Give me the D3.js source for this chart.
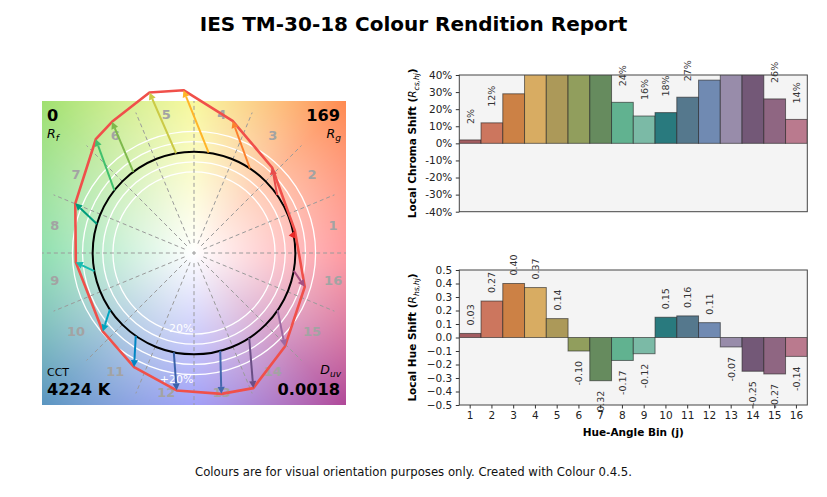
<!DOCTYPE html>
<html lang="en">
<head>
<meta charset="UTF-8">
<title>IES TM-30-18 Colour Rendition Report</title>
<script src="https://cdn.jsdelivr.net/npm/d3@7"></script>
<style>
  body { margin: 0; background: #fff; }
  svg { display: block; font-family: "DejaVu Sans", sans-serif; }
</style>
</head>
<body>
<script>
// hue-angle bins and their values
const bins = d3.range(1, 17);
const chromaShift = [2, 12, 29, 58, 62, 50, 46, 24, 16, 18, 27, 37, 42, 45, 26, 14];   // %
const hueShift = [0.03, 0.27, 0.40, 0.37, 0.14, -0.10, -0.32, -0.17, -0.12, 0.15, 0.16, 0.11, -0.07, -0.25, -0.27, -0.14];
// colour vector graphic: reference hue (deg), test hue (deg), test chroma (relative to reference)
const refHue = [11, 34.8, 56.5, 81.7, 100.2, 126.8, 141.8, 163.4, 190.3, 213.9, 234.9, 258.5, 285, 303, 325.6, 349.9];
const testHue = [12.5, 47.6, 73.7, 93.7, 105.5, 122, 130.8, 157.3, 184.5, 220.7, 242.3, 262.8, 281, 293.7, 314.2, 343];
const testChroma = [1.02, 1.143, 1.358, 1.61, 1.643, 1.527, 1.483, 1.27, 1.17, 1.187, 1.272, 1.367, 1.416, 1.456, 1.287, 1.143];
const chromaTicks = d3.range(-40, 41, 10);
const hueTicks = d3.range(-0.5, 0.51, 0.1);
const Rf = "0", Rg = "169", CCT = "4224 K", Duv = "0.0018";

const barColours = ["#a35c60", "#cc765e", "#cc8145", "#d8ac62", "#ac9959", "#919e5d", "#668b5e", "#61b290",
  "#7bbaa6", "#297a7e", "#55788d", "#708ab2", "#988caa", "#735877", "#8f6682", "#ba7a8e"];
const arrowColours = ["#e62828", "#e74b4b", "#fb812e", "#ffb529", "#cbca46", "#7eb94c", "#41c06d", "#009c7c",
  "#16bcb0", "#00a4bf", "#0085c3", "#3b62aa", "#4568ae", "#6a4e85", "#9d69a1", "#a74f81"];

const width = 827, height = 497;
const svg = d3.select("body").append("svg").attr("width", width).attr("height", height);

svg.append("text").attr("x", 413.5).attr("y", 31).attr("text-anchor", "middle")
  .style("font-size", "20px").style("font-weight", "bold").text("IES TM-30-18 Colour Rendition Report");
svg.append("text").attr("x", 413.5).attr("y", 476).attr("text-anchor", "middle")
  .style("font-size", "11.7px").style("fill", "#111")
  .text("Colours are for visual orientation purposes only. Created with Colour 0.4.5.");

// ---- colour vector graphic ----
const vx = d3.scaleLinear().domain([-1.5, 1.5]).range([42, 346]);
const vy = d3.scaleLinear().domain([-1.5, 1.5]).range([405, 101]);
const rad = d => d * Math.PI / 180;
const px = (r, a) => vx(r * Math.cos(rad(a)));
const py = (r, a) => vy(r * Math.sin(rad(a)));

// background hue wheel
const hueScale = d3.scaleLinear()
  .domain([0, 45, 90, 135, 180, 225, 270, 315, 360])
  .range(["#ff7179", "#ff8a50", "#f5f575", "#a0e070", "#63d390", "#5a95c0", "#7979f5", "#b04898", "#ff7179"])
  .interpolate(d3.interpolateRgb);
const cv = document.createElement("canvas");
cv.width = 304; cv.height = 304;
const ctx = cv.getContext("2d");
const img = ctx.createImageData(304, 304);
for (let j = 0; j < 304; j++) {
  for (let i = 0; i < 304; i++) {
    const x = vx.invert(42 + i + 0.5), y = vy.invert(101 + j + 0.5);
    const r = Math.hypot(x, y);
    let a = Math.atan2(y, x) * 180 / Math.PI;
    if (a < 0) a += 360;
    const c = d3.rgb(hueScale(a));
    const t = Math.pow(Math.min(1, r / 2.12), 1.0);
    const k = (j * 304 + i) * 4;
    img.data[k] = 255 + (c.r - 255) * t;
    img.data[k + 1] = 255 + (c.g - 255) * t;
    img.data[k + 2] = 255 + (c.b - 255) * t;
    img.data[k + 3] = 255;
  }
}
ctx.putImageData(img, 0, 0);
svg.append("image").attr("x", 42).attr("y", 101).attr("width", 304).attr("height", 304)
  .attr("href", cv.toDataURL());

const vg = svg.append("g");
vg.selectAll(".ring").data([0.8, 0.9, 1.1, 1.2]).enter().append("circle")
  .attr("cx", vx(0)).attr("cy", vy(0)).attr("r", d => vx(d) - vx(0))
  .style("fill", "none").style("stroke", "#fff").style("stroke-width", 1.3);
vg.selectAll(".spoke").data(d3.range(0, 360, 22.5)).enter().append("line")
  .attr("x1", d => px(0.1, d)).attr("y1", d => py(0.1, d)).attr("x2", d => px(1.5, d)).attr("y2", d => py(1.5, d))
  .style("stroke", "#9a9a9a").style("stroke-width", 1).style("stroke-dasharray", "4,3");
vg.append("circle").attr("cx", vx(0)).attr("cy", vy(0)).attr("r", vx(1) - vx(0))
  .style("fill", "none").style("stroke", "#000").style("stroke-width", 2);
vg.append("path").attr("d", `M${vx(0) - 2},${vy(0)}h4M${vx(0)},${vy(0) - 2}v4`).style("stroke", "#999");
vg.append("text").attr("x", 193.5).attr("y", 332).attr("text-anchor", "end")
  .style("fill", "#fff").style("font-size", "11px").text("-20%");
vg.append("text").attr("x", 193.5).attr("y", 383).attr("text-anchor", "end")
  .style("fill", "#fff").style("font-size", "11px").text("+20%");
vg.selectAll(".binlabel").data(bins).enter().append("text")
  .attr("x", d => px(1.4, (d - 0.5) * 22.5)).attr("y", d => py(1.4, (d - 0.5) * 22.5))
  .attr("text-anchor", "middle").attr("dy", "0.36em")
  .style("fill", "#a3a3a3").style("font-size", "13px").style("font-weight", "bold").text(d => d);

// test polygon
const line = d3.line().curve(d3.curveLinearClosed);
vg.append("path")
  .attr("d", line(bins.map((d, i) => [px(testChroma[i], testHue[i]), py(testChroma[i], testHue[i])])))
  .style("fill", "none").style("stroke", "#f0504a").style("stroke-width", 2.6).style("stroke-linejoin", "round");

// arrows
bins.forEach((d, i) => {
  const x1 = px(1, refHue[i]), y1 = py(1, refHue[i]);
  const x2 = px(testChroma[i], testHue[i]), y2 = py(testChroma[i], testHue[i]);
  const len = Math.hypot(x2 - x1, y2 - y1) || 1;
  const ux = (x2 - x1) / len, uy = (y2 - y1) / len;
  const hl = 7, hw = 3.6;
  const bx0 = x2 - ux * hl, by0 = y2 - uy * hl;
  vg.append("line").attr("x1", x1).attr("y1", y1).attr("x2", bx0).attr("y2", by0)
    .style("stroke", arrowColours[i]).style("stroke-width", 2);
  vg.append("path")
    .attr("d", `M${x2},${y2}L${bx0 - uy * hw},${by0 + ux * hw}L${bx0 + uy * hw},${by0 - ux * hw}Z`)
    .style("fill", arrowColours[i]);
});

// corner annotations
const big = { "font-size": "16.2px", "font-weight": "bold" };
function txt(x, y, anchor, s, style) {
  const t = vg.append("text").attr("x", x).attr("y", y).attr("text-anchor", anchor).text(s);
  Object.entries(style).forEach(([k, v]) => t.style(k, v));
  return t;
}
txt(47, 121, "start", Rf, big);
txt(340, 121, "end", Rg, big);
txt(47, 394.5, "start", CCT, big);
txt(340, 394.5, "end", Duv, big);
txt(47, 375.5, "start", "CCT", { "font-size": "11px" });
function subLabel(x, y, anchor, main, sub) {
  const t = vg.append("text").attr("x", x).attr("y", y).attr("text-anchor", anchor)
    .style("font-size", "12.5px").style("font-style", "italic");
  t.append("tspan").text(main);
  t.append("tspan").attr("dy", 3).style("font-size", "9px").text(sub);
}
subLabel(47, 137.5, "start", "R", "f");
subLabel(341, 137.5, "end", "R", "g");
subLabel(341, 374, "end", "D", "uv");

// ---- bar charts ----
const xBand = d3.scaleBand().domain(bins).range([459.3, 807.3]).padding(0);
const cy = d3.scaleLinear().domain([-40, 40]).range([211.7, 75]);
const hy = d3.scaleLinear().domain([-0.5, 0.5]).range([405, 270]);

function frame(y0, y1, id) {
  svg.append("clipPath").attr("id", id).append("rect")
    .attr("x", 459.3).attr("y", y0).attr("width", 348).attr("height", y1 - y0);
  svg.append("rect").attr("x", 459.3).attr("y", y0).attr("width", 348).attr("height", y1 - y0)
    .style("fill", "#f4f4f4");
}
function border(y0, y1) {
  svg.append("rect").attr("x", 459.3).attr("y", y0).attr("width", 348).attr("height", y1 - y0)
    .style("fill", "none").style("stroke", "#444").style("stroke-width", 1);
}
function styleAxis(g) {
  g.select(".domain").remove();
  g.selectAll(".tick line").style("stroke", "#333");
  g.selectAll(".tick text").style("font-size", "10.5px").style("fill", "#222")
    .style("font-family", "DejaVu Sans, sans-serif");
}

// chroma shift
frame(75, 211.7, "clipC");
svg.append("g").attr("clip-path", "url(#clipC)").selectAll("rect").data(bins).enter().append("rect")
  .attr("x", d => xBand(d)).attr("width", xBand.bandwidth())
  .attr("y", (d, i) => cy(Math.max(0, chromaShift[i])))
  .attr("height", (d, i) => Math.abs(cy(chromaShift[i]) - cy(0)))
  .style("fill", (d, i) => barColours[i]).style("stroke", "#222").style("stroke-opacity", 0.6).style("stroke-width", 1);
border(75, 211.7);
svg.append("g").attr("transform", "translate(459.3,0)")
  .call(d3.axisLeft(cy).tickValues(chromaTicks).tickFormat(d => d + "%").tickSize(3.5).tickPadding(3.5))
  .call(styleAxis);
bins.forEach((d, i) => {
  const v = chromaShift[i];
  if (v > 40) return;
  const t = svg.append("text")
    .attr("transform", `translate(${xBand(d) + xBand.bandwidth() / 2},${cy(v) - 16}) rotate(-90)`)
    .attr("dy", "0.35em").style("font-size", "9.5px").style("fill", "#333").text(Math.round(v) + "%");
  if (cy(v) - 16 - t.node().getComputedTextLength() < 58) t.remove();
});
const yl1 = svg.append("text").attr("transform", `translate(416,143.3) rotate(-90)`).attr("text-anchor", "middle")
  .style("font-size", "10.5px").style("font-weight", "bold");
yl1.append("tspan").text("Local Chroma Shift (");
yl1.append("tspan").style("font-weight", "normal").style("font-style", "italic").text("R");
yl1.append("tspan").attr("dy", 2.5).style("font-weight", "normal").style("font-style", "italic")
  .style("font-size", "7.5px").text("cs,hj");
yl1.append("tspan").attr("dy", -2.5).text(")");

// hue shift
frame(270, 405, "clipH");
svg.append("g").attr("clip-path", "url(#clipH)").selectAll("rect").data(bins).enter().append("rect")
  .attr("x", d => xBand(d)).attr("width", xBand.bandwidth())
  .attr("y", (d, i) => hy(Math.max(0, hueShift[i])))
  .attr("height", (d, i) => Math.abs(hy(hueShift[i]) - hy(0)))
  .style("fill", (d, i) => barColours[i]).style("stroke", "#222").style("stroke-opacity", 0.6).style("stroke-width", 1);
border(270, 405);
svg.append("g").attr("transform", "translate(459.3,0)")
  .call(d3.axisLeft(hy).tickValues(hueTicks).tickFormat(d3.format(".1f")).tickSize(3.5).tickPadding(3.5))
  .call(styleAxis);
svg.append("g").attr("transform", "translate(0,405)")
  .call(d3.axisBottom(xBand).tickSize(3.5).tickPadding(3.5))
  .call(styleAxis);
bins.forEach((d, i) => {
  const v = hueShift[i];
  const pos = v >= 0;
  svg.append("text")
    .attr("transform", `translate(${xBand(d) + xBand.bandwidth() / 2},${pos ? hy(v) - 8 : hy(v) + 10}) rotate(-90)`)
    .attr("text-anchor", pos ? "start" : "end")
    .attr("dy", "0.35em").style("font-size", "9.5px").style("fill", "#333").text(v.toFixed(2));
});
const yl2 = svg.append("text").attr("transform", `translate(416,337.5) rotate(-90)`).attr("text-anchor", "middle")
  .style("font-size", "10.5px").style("font-weight", "bold");
yl2.append("tspan").text("Local Hue Shift (");
yl2.append("tspan").style("font-weight", "normal").style("font-style", "italic").text("R");
yl2.append("tspan").attr("dy", 2.5).style("font-weight", "normal").style("font-style", "italic")
  .style("font-size", "7.5px").text("hs,hj");
yl2.append("tspan").attr("dy", -2.5).text(")");
svg.append("text").attr("x", 633.3).attr("y", 436).attr("text-anchor", "middle")
  .style("font-size", "10.5px").style("font-weight", "bold").text("Hue-Angle Bin (j)");
</script>
</body>
</html>
